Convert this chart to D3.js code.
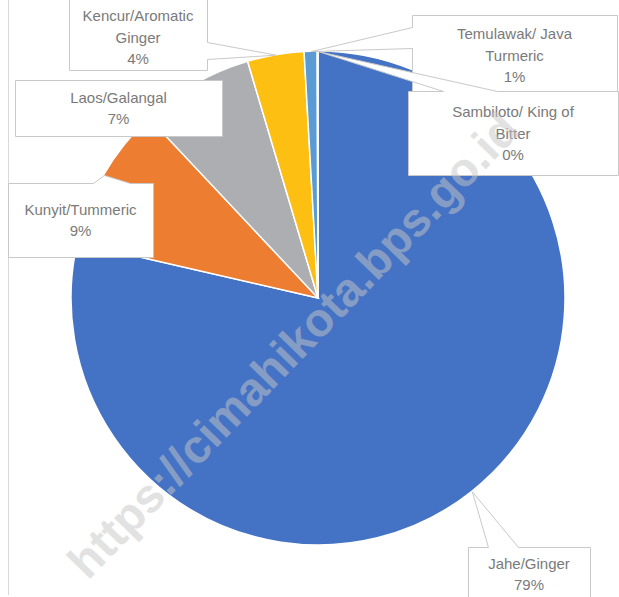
<!DOCTYPE html>
<html>
<head>
<meta charset="utf-8">
<script src="https://cdn.jsdelivr.net/npm/d3@7"></script>
<style>
  body { margin: 0; background: #fff; }
  svg { display: block; }
</style>
</head>
<body>
<script>
// data
const categories = ["Jahe/Ginger", "Kunyit/Tummeric", "Laos/Galangal", "Kencur/Aromatic Ginger", "Temulawak/ Java Turmeric", "Sambiloto/ King of Bitter"];
const values = [78.6, 9.4, 7.4, 3.7, 0.85, 0.05];
const labelLines = [
    ["Jahe/Ginger"],
    ["Kunyit/Tummeric"],
    ["Laos/Galangal"],
    ["Kencur/Aromatic", "Ginger"],
    ["Temulawak/ Java", "Turmeric"],
    ["Sambiloto/ King of", "Bitter"]
];
const colors = ["#4472c4", "#ed7d31", "#adaeb2", "#fcbf12", "#5b9bd5", "#70ad47"];

// callout boxes: x0, y0, x1, y1 and base of the pointer
const boxes = [
    { x0: 468, y0: 547, x1: 590, y1: 610, base: [[488, 547], [518, 547]] },
    { x0: 8, y0: 183, x1: 153, y1: 257, base: [[93, 183], [130, 183]] },
    { x0: 15, y0: 80, x1: 222, y1: 136, base: null },
    { x0: 69, y0: -4, x1: 207, y1: 70, base: [[207, 42], [207, 59]] },
    { x0: 412, y0: 15, x1: 617, y1: 95, base: [[412, 27], [412, 48]] },
    { x0: 408, y0: 91, x1: 618, y1: 175, base: [[443, 91], [497, 91]] }
];

const width = 619, height = 597;
const cx = 318, cy = 298, radius = 247;

const svg = d3.select("body").append("svg")
    .attr("width", width)
    .attr("height", height);

// left edge of the chart frame
svg.append("line")
    .attr("x1", 8.5).attr("x2", 8.5)
    .attr("y1", 0).attr("y2", 595)
    .attr("stroke", "#d9d9d9");

const total = d3.sum(values);
const pie = d3.pie().sort(null).value(d => d)(values);
const arc = d3.arc().innerRadius(0).outerRadius(radius);

const g = svg.append("g").attr("transform", `translate(${cx},${cy})`);

g.selectAll("path.slice")
    .data(pie)
    .enter().append("path")
    .attr("class", "slice")
    .attr("d", arc)
    .attr("fill", (d, i) => colors[i])
    .attr("stroke", "#fff")
    .attr("stroke-width", 1.5);

// callouts
const lineH = 21.5;
pie.forEach((d, i) => {
    const b = boxes[i];
    const mid = (d.startAngle + d.endAngle) / 2;
    const tip = [cx + radius * Math.sin(mid), cy - radius * Math.cos(mid)];
    const lg = svg.append("g");

    let path;
    if (b.base) {
        const [p, q] = b.base;
        let pts;
        if (p[1] === b.y0 && q[1] === b.y0) {
            pts = [[b.x0, b.y0], p, tip, q, [b.x1, b.y0], [b.x1, b.y1], [b.x0, b.y1]];
        } else if (p[0] === b.x1) {
            pts = [[b.x0, b.y0], [b.x1, b.y0], p, tip, q, [b.x1, b.y1], [b.x0, b.y1]];
        } else {
            pts = [[b.x0, b.y0], [b.x1, b.y0], [b.x1, b.y1], [b.x0, b.y1], q, tip, p];
        }
        path = "M" + pts.map(pt => pt.join(",")).join("L") + "Z";
    } else {
        path = `M${b.x0},${b.y0}H${b.x1}V${b.y1}H${b.x0}Z`;
    }

    lg.append("path")
        .attr("d", path)
        .attr("fill", "#fff")
        .attr("stroke", "#c9c9c9")
        .attr("stroke-width", 1)
        .attr("transform", "translate(0.5,0.5)");

    const lines = labelLines[i].concat([Math.round(d.data / total * 100) + "%"]);
    const tx = (b.x0 + b.x1) / 2;
    let tyMid = (b.y0 + b.y1) / 2;
    if (i === 0) tyMid = 574;
    if (i === 3) tyMid = 37;
    const y0 = tyMid - (lines.length - 1) * lineH / 2;

    lg.selectAll("text")
        .data(lines)
        .enter().append("text")
        .attr("x", tx)
        .attr("y", (t, k) => y0 + k * lineH)
        .attr("text-anchor", "middle")
        .attr("dominant-baseline", "central")
        .attr("font-family", "Liberation Sans, Arial, sans-serif")
        .attr("font-size", 15)
        .attr("fill", "#7a7a7a")
        .text(t => t);
});

// watermark, drawn over everything
svg.append("text")
    .attr("transform", "translate(293,345) rotate(-46)")
    .attr("text-anchor", "middle")
    .attr("dominant-baseline", "central")
    .attr("font-family", "Liberation Sans, Arial, sans-serif")
    .attr("font-weight", "bold")
    .attr("font-size", 47)
    .attr("fill", "#c6c6c6")
    .attr("opacity", 0.5)
    .text("https://cimahikota.bps.go.id");
</script>
</body>
</html>
